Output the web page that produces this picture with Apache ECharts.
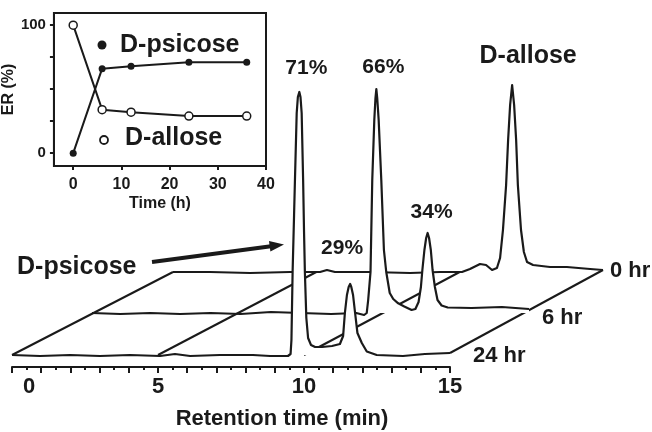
<!DOCTYPE html>
<html><head><meta charset="utf-8">
<script src="https://cdn.jsdelivr.net/npm/echarts@6/dist/echarts.min.js"></script>
<style>html,body{margin:0;padding:0;background:#fff}#c{width:652px;height:432px}</style>
</head><body><div id="c"></div>
<script>
// ---------- inset data (enantiomeric ratio vs time) ----------
const insetTimes = [0, 6, 12, 24, 36];
const erPsicose = [0, 66, 68, 71, 71];
const erAllose = [100, 34, 32, 29, 29];
const insetXTicks = [0, 10, 20, 30, 40];
const insetYTicks = [0, 25, 50, 75, 100];
const insetYLabels = [0, 100];

// ---------- chromatograms: [retention time (min), detector signal] ----------
const trace24h = [[0.00,0],[0.96,-1],[1.99,0],[3.01,-1],[4.04,0],[5.07,-1],[5.58,1],[6.10,-1],[7.12,0],[8.25,0],[8.84,-1],[9.45,-1],[9.54,1],[9.57,15],[9.61,83],[9.66,140],[9.69,175],[9.75,242],[9.79,258],[9.84,263],[9.88,258],[9.92,242],[9.97,175],[10.00,125],[10.03,83],[10.08,37],[10.14,17],[10.24,10],[10.38,8],[10.62,8],[10.96,9],[11.23,11],[11.34,19],[11.40,42],[11.47,60],[11.53,68],[11.58,71],[11.62,68],[11.68,60],[11.75,42],[11.83,22],[11.98,12],[12.15,3.5],[12.49,0],[13.39,-1],[14.14,1],[15.00,2]];
const trace6h = [[0.00,0],[0.97,-1],[2.00,0],[3.03,-1],[4.07,0],[5.10,-1],[6.14,1],[7.17,0],[8.21,-1],[9.07,0],[9.34,-2],[9.43,0],[9.48,13],[9.56,41],[9.62,133],[9.69,193],[9.73,215],[9.76,224],[9.79,215],[9.84,193],[9.93,133],[10.02,63],[10.10,41],[10.22,20],[10.34,14],[10.51,9.7],[10.72,6.5],[10.97,3],[11.10,4],[11.21,11],[11.29,26],[11.34,43],[11.41,63],[11.47,75],[11.52,80],[11.57,75],[11.63,63],[11.69,43],[11.77,26],[11.86,13],[12.00,7.5],[12.21,5.5],[13.03,5],[14.07,6],[15.00,4]];
const trace0h = [[0.00,0],[1.29,0],[2.69,-1],[4.08,0],[5.13,0],[5.37,2],[5.65,0],[6.87,0],[8.27,-1],[9.31,0],[10.08,0],[10.36,3],[10.71,8],[10.92,7],[11.13,2],[11.30,4],[11.41,14],[11.51,42],[11.62,87],[11.69,132],[11.76,167],[11.83,187],[11.90,167],[11.97,132],[12.03,87],[12.14,42],[12.24,20],[12.35,10],[12.56,7],[13.15,5],[13.74,5],[14.55,3],[15.00,2]];
const traceNames = ['24 hr', '6 hr', '0 hr'];
const rtLabels = [0, 5, 10, 15];
const floorLines = [5, 10];

// peak annotations: which trace, retention window, text
const peakNotes = [
  {trace: 0, range: [9.5, 10.2], text: '71%'},
  {trace: 0, range: [11.3, 11.9], text: '29%'},
  {trace: 1, range: [9.4, 10.1], text: '66%'},
  {trace: 1, range: [11.2, 11.8], text: '34%'},
  {trace: 2, range: [11.4, 12.2], text: 'D-allose'}
];

// ---------- styling / layout ----------
const ink = '#1a1a1a';
const ff = '"Liberation Sans", Arial, sans-serif';
const noteOffsets = [[7,-24],[-8,-36],[7,-22],[4,-21],[16,-29]];
const noteSizes = [21,21,21,21,25];
const endOffsets = [[23,3],[13,9],[7,1]];
const seriesZ = [5,4,2];

function peakIn(tr, lo, hi) {
  let best = null;
  tr.forEach(p => { if (p[0] >= lo && p[0] <= hi && (!best || p[1] > best[1])) best = p; });
  return best;
}

const traces = [trace24h, trace6h, trace0h];
const mainSeries = traces.map((tr, i) => ({
  type: 'line', name: traceNames[i], xAxisIndex: i, yAxisIndex: i,
  data: tr, symbol: 'none', showSymbol: false, clip: false, z: seriesZ[i],
  lineStyle: {color: ink, width: 2.2, join: 'round'},
  areaStyle: {color: '#fff', opacity: 1, origin: 'start'},
  endLabel: {show: true, formatter: traceNames[i], distance: 0, offset: endOffsets[i],
    fontSize: 22, fontWeight: 'bold', color: ink, fontFamily: ff},
  markPoint: {
    symbol: 'circle', symbolSize: 0, silent: true, animation: false,
    data: peakNotes.map((n, k) => ({n, k})).filter(o => o.n.trace === i).map(o => ({
      coord: peakIn(tr, o.n.range[0], o.n.range[1]),
      label: {show: true, position: 'inside', formatter: o.n.text, offset: noteOffsets[o.k],
        fontSize: noteSizes[o.k], fontWeight: 'bold', color: ink, fontFamily: ff}
    }))
  }
}));

const hiddenX = i => ({type: 'value', gridIndex: i, min: 0, max: 15, show: false});
const hiddenY = i => ({type: 'value', gridIndex: i, min: 0, max: 270, show: false});

const option = {
  animation: false,
  backgroundColor: '#fff',
  grid: [
    {left: 12, top: 85, width: 438, height: 270},
    {left: 92, top: 43, width: 437, height: 270},
    {left: 173, top: 2, width: 430, height: 270},
    {left: 52, top: 13, width: 214, height: 153, show: true, borderColor: ink, borderWidth: 2, backgroundColor: 'transparent'}
  ],
  xAxis: [
    {type: 'value', gridIndex: 0, min: 0, max: 15, interval: 1, offset: 12,
      axisLine: {show: true, onZero: false, lineStyle: {color: ink, width: 2}},
      axisTick: {show: true, length: 6, lineStyle: {color: ink, width: 2}},
      minorTick: {show: true, splitNumber: 2, length: 3, lineStyle: {color: ink, width: 2}},
      splitLine: {show: false},
      axisLabel: {margin: 9, fontSize: 22, fontWeight: 'bold', color: ink, fontFamily: ff,
        formatter: v => rtLabels.indexOf(v) < 0 ? '' : (v === 0 ? '{z|0}' : String(v)),
        rich: {z: {padding: [0, 0, 0, 34], fontSize: 22, fontWeight: 'bold', color: ink, fontFamily: ff}}}
    },
    hiddenX(1), hiddenX(2),
    {type: 'value', gridIndex: 3, min: -4, max: 40,
      axisLine: {show: true, onZero: false, lineStyle: {color: ink, width: 2}},
      axisTick: {show: true, customValues: insetXTicks, length: 4, lineStyle: {color: ink, width: 2}},
      axisLabel: {customValues: insetXTicks, margin: 11, fontSize: 16, fontWeight: 'bold', color: ink, fontFamily: ff},
      splitLine: {show: false},
      name: 'Time (h)', nameLocation: 'middle', nameGap: 30,
      nameTextStyle: {fontSize: 16, fontWeight: 'bold', color: ink, fontFamily: ff}
    }
  ],
  yAxis: [
    hiddenY(0), hiddenY(1), hiddenY(2),
    {type: 'value', gridIndex: 3, min: -10, max: 109.5,
      axisLine: {show: true, onZero: false, lineStyle: {color: ink, width: 2}},
      axisTick: {show: true, customValues: insetYTicks, length: 4, lineStyle: {color: ink, width: 2}},
      axisLabel: {customValues: insetYLabels, margin: 8, fontSize: 15, fontWeight: 'bold', color: ink, fontFamily: ff},
      splitLine: {show: false},
      name: 'ER (%)', nameLocation: 'middle', nameGap: 23, nameRotate: 90,
      nameTextStyle: {fontSize: 16, fontWeight: 'bold', color: ink, fontFamily: ff}
    }
  ],
  series: mainSeries.concat([
    {type: 'line', name: 'D-psicose', xAxisIndex: 3, yAxisIndex: 3, z: 6,
      data: insetTimes.map((t, i) => [t, erPsicose[i]]),
      symbol: 'circle', symbolSize: 7, itemStyle: {color: ink},
      lineStyle: {color: ink, width: 2}},
    {type: 'line', name: 'D-allose', xAxisIndex: 3, yAxisIndex: 3, z: 7,
      data: insetTimes.map((t, i) => [t, erAllose[i]]),
      symbol: 'circle', symbolSize: 8, itemStyle: {color: '#fff', borderColor: ink, borderWidth: 1.5},
      lineStyle: {color: ink, width: 2}}
  ])
};

const chart = echarts.init(document.getElementById('c'), null, {renderer: 'canvas'});
chart.setOption(option);

// floor (depth) lines, positioned through the axes of the front and back traces
const px = (i, pt) => chart.convertToPixel({xAxisIndex: i, yAxisIndex: i}, pt);
const floorPairs = [[trace24h[0], trace0h[0]], [trace24h[trace24h.length - 1], trace0h[trace0h.length - 1]]]
  .concat(floorLines.map(t => [[t, 0], [t, 0]]));
const graphics = floorPairs.map(pr => {
  const a = px(0, pr[0]), b = px(2, pr[1]);
  return {type: 'line', z: 3, silent: true, shape: {x1: a[0], y1: a[1], x2: b[0], y2: b[1]},
    style: {stroke: ink, lineWidth: 2}};
});
const txt = (text, x, y, size, align) => ({type: 'text', x, y, z: 10, silent: true,
  style: {text, fontSize: size, fontWeight: 'bold', fontFamily: ff, fill: ink, align: align || 'left', verticalAlign: 'middle'}});
graphics.push(
  txt('Retention time (min)', 282, 419, 22, 'center'),
  txt('D-psicose', 17, 267, 25),
  {type: 'line', z: 10, silent: true, shape: {x1: 152, y1: 262, x2: 271, y2: 246.3}, style: {stroke: ink, lineWidth: 4}},
  {type: 'polygon', z: 10, silent: true, shape: {points: [[284, 244.5], [270.4, 251.6], [269.0, 241.0]]}, style: {fill: ink}},
  {type: 'circle', z: 10, silent: true, shape: {cx: 102, cy: 45, r: 4.5}, style: {fill: ink}},
  txt('D-psicose', 120, 45, 25),
  {type: 'circle', z: 10, silent: true, shape: {cx: 104, cy: 140, r: 4}, style: {fill: '#fff', stroke: ink, lineWidth: 1.8}},
  txt('D-allose', 125, 138, 25)
);
chart.setOption({graphic: graphics});
</script>
</body></html>
